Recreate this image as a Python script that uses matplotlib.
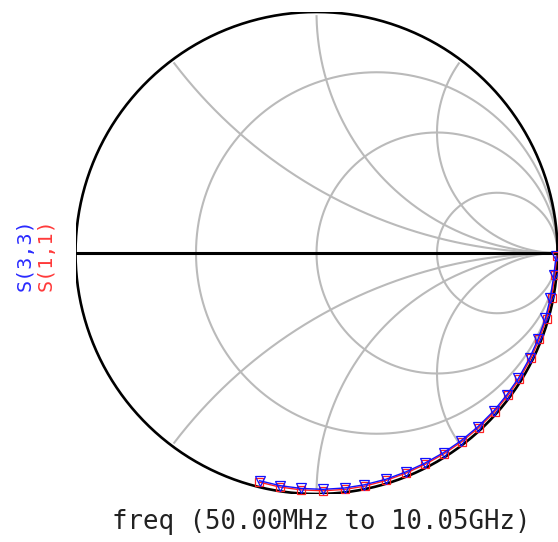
import numpy as np
import matplotlib
matplotlib.use("Agg")
import matplotlib.pyplot as plt

# ---- data ----
freq_ghz = [0.05, 0.55, 1.05, 1.55, 2.05, 2.55, 3.05, 3.55, 4.05, 4.55, 5.05,
            5.55, 6.05, 6.55, 7.05, 7.55, 8.05, 8.55, 9.05, 9.55, 10.05]
s11_mag = [0.997, 0.993, 0.993, 0.993, 0.991, 0.991, 0.991, 0.990, 0.990, 0.989, 0.988,
           0.987, 0.986, 0.986, 0.987, 0.988, 0.988, 0.987, 0.985, 0.983, 0.980]
s11_ang = [-0.7, -5.3, -10.8, -15.9, -21.1, -26.1, -31.8, -36.5, -41.7, -47.1, -52.4,
           -57.5, -62.8, -67.8, -72.9, -78.3, -83.2, -88.4, -93.7, -98.9, -104.1]
s33_mag = [0.994, 0.989, 0.988, 0.988, 0.986, 0.986, 0.986, 0.985, 0.985, 0.984, 0.983,
           0.982, 0.981, 0.981, 0.982, 0.982, 0.982, 0.981, 0.979, 0.977, 0.974]
s33_ang = [-0.8, -5.4, -10.8, -15.9, -21.1, -26.2, -31.8, -36.6, -41.7, -47.1, -52.4,
           -57.5, -62.8, -67.8, -72.9, -78.3, -83.2, -88.4, -93.7, -98.9, -104.0]

r_circles = [1/3, 1.0, 3.0]
x_arcs = [0.5, 1.0, 2.0]

label_s33 = "S(3,3)"
label_s11 = "S(1,1)"
xlabel = "freq (50.00MHz to 10.05GHz)"

# ---- figure ----
W, H = 558, 542
fig = plt.figure(figsize=(W / 100, H / 100), dpi=100)
cx, cy, R = 316.5, 253.0, 241.0
ax = fig.add_axes([(cx - R) / W, (H - cy - R) / H, 2 * R / W, 2 * R / H])
ax.set_xlim(-1, 1)
ax.set_ylim(-1, 1)
ax.set_aspect("equal")
ax.axis("off")

grid_col = "#bababa"
glw = 1.5
t = np.linspace(0, 2 * np.pi, 721)

# constant resistance circles
for r in r_circles:
    c = r / (1 + r)
    rad = 1 / (1 + r)
    ax.plot(c + rad * np.cos(t), rad * np.sin(t), color=grid_col, lw=glw, zorder=1)

# constant reactance arcs
rr = np.concatenate([np.linspace(0, 1, 400), np.logspace(0, 5, 800)])
for xv in x_arcs:
    for sgn in (1, -1):
        z = rr + 1j * sgn * xv
        g = (z - 1) / (z + 1)
        g = g[np.abs(g) <= 0.985]
        ax.plot(g.real, g.imag, color=grid_col, lw=glw, zorder=1)

# outer circle and real axis
ax.plot(np.cos(t), np.sin(t), color="black", lw=1.9, zorder=2)
ax.plot([-1, 1], [0, 0], color="black", lw=2.2, zorder=2)

# traces
g11 = np.array(s11_mag) * np.exp(1j * np.deg2rad(s11_ang))
g33 = np.array(s33_mag) * np.exp(1j * np.deg2rad(s33_ang))
ax.plot(g11.real, g11.imag, color="#ff2020", lw=1.0, marker="s", ms=6.2,
        mfc="none", mec="#ff2020", mew=0.9, zorder=3, clip_on=False)
ax.plot(g33.real, g33.imag, color="#1010ff", lw=1.0, marker="v", ms=6.8,
        mfc="none", mec="#1010ff", mew=0.9, zorder=4, clip_on=False)

# labels
fig.text(25 / W, 1 - 255 / H, label_s33, rotation=90, color="#2a2aff",
         family="DejaVu Sans Mono", fontsize=14.5, ha="center", va="center")
fig.text(46.5 / W, 1 - 255 / H, label_s11, rotation=90, color="#ff3a3a",
         family="DejaVu Sans Mono", fontsize=14.5, ha="center", va="center")
fig.text(321.5 / W, 1 - 522 / H, xlabel, color="#222222",
         family="DejaVu Sans Mono", fontsize=18.5, ha="center", va="center")

fig.savefig("out.png", dpi=100)
